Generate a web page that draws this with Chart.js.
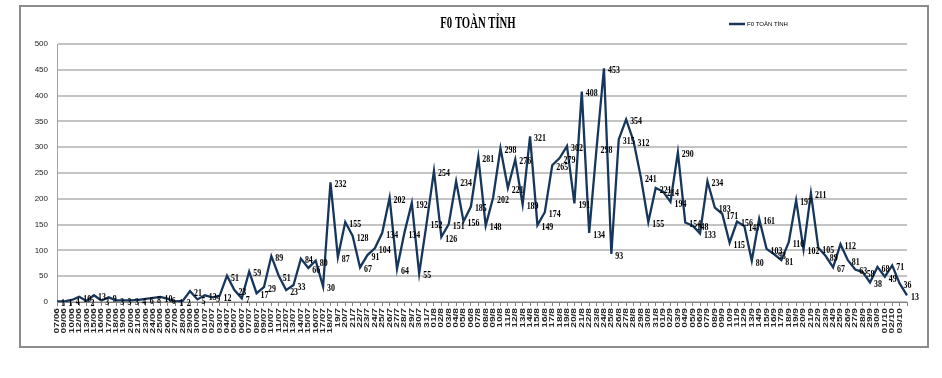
<!DOCTYPE html>
<html>
<head>
<meta charset="utf-8">
<script src="https://cdn.jsdelivr.net/npm/chart.js@4.4.1/dist/chart.umd.min.js"></script>
<style>
body{margin:0;background:#fff;}
#wrap{position:relative;width:942px;height:378px;}
#frame{position:absolute;left:19px;top:5px;width:906px;height:339px;border:2px solid #8c8c8c;pointer-events:none;}
</style>
</head>
<body>
<div id="wrap">
  <canvas id="myChart" width="942" height="378"></canvas>
  <div id="frame"></div>
</div>
<script>
var ngay = ['07/06','09/06','10/06','12/06','13/06','15/06','16/06','17/06','18/06','19/06',
  '20/06','21/06','23/06','24/06','25/06','26/06','27/06','28/06','29/06','30/06',
  '01/07','02/07','03/07','04/07','05/07','06/07','07/07','08/07','09/07','10/07',
  '11/07','12/07','13/07','14/07','15/07','16/07','17/07','18/07',
  '19/7','20/7','21/7','22/7','23/7','24/7','25/7','26/7','27/7','28/7','29/7','30/7','31/7',
  '01/8','02/8','03/8','04/8','05/8','06/8','07/8','08/8','09/8','10/8',
  '11/8','12/8','13/8','14/8','15/8','16/8','17/8','18/8','19/8','20/8',
  '21/8','22/8','23/8','24/8','25/8','26/8','27/8','28/8','29/8','30/8','31/8',
  '01/9','02/9','03/9','04/9','05/9','06/9','07/9','08/9','09/9','10/9',
  '11/9','12/9','13/9','14/9','15/9','16/9','17/9','18/9','19/9','20/9',
  '21/9','22/9','23/9','24/9','25/9','26/9','27/9','28/9','29/9','30/9',
  '01/10','02/10','03/10',''];

var so_ca = [1,1,4,10,2,13,3,9,3,3,
  3,4,6,8,10,6,1,2,21,5,
  13,9,12,51,23,7,59,17,29,89,
  51,23,33,84,66,80,30,232,
  87,155,128,67,91,104,134,202,64,134,192,55,152,
  254,126,151,234,156,185,281,148,202,298,
  221,276,189,321,149,174,265,279,302,191,
  408,134,298,453,93,315,354,312,241,155,221,
  214,194,290,154,148,133,234,183,171,115,
  156,147,80,161,103,93,81,116,197,102,
  211,105,89,67,112,81,63,58,38,68,
  49,71,36,13];

var ten_series = 'F0 TOÀN TỈNH';
var mau_line = '#16365c';
var fontSerif = "'Liberation Serif','DejaVu Serif',serif";
var fontSans = "'Liberation Sans','DejaVu Sans',sans-serif";

// tieu de + chu thich (chu hep nhu ban goc)
var tieuDe = {
  id:'tieuDe',
  afterDraw:function(chart){
    var c = chart.ctx;
    c.save();
    c.fillStyle = '#000';
    c.textAlign = 'center';
    c.textBaseline = 'middle';
    c.font = 'bold 17px ' + fontSerif;
    c.translate(478, 24);
    c.scale(0.63, 1);
    c.fillText(ten_series, 0, 0);
    c.restore();

    c.save();
    c.strokeStyle = mau_line;
    c.lineWidth = 2.5;
    c.beginPath();
    c.moveTo(729, 24);
    c.lineTo(745, 24);
    c.stroke();
    c.fillStyle = '#000';
    c.font = '6px ' + fontSans;
    c.textBaseline = 'middle';
    c.fillText(ten_series, 747, 24);
    c.restore();
  }
};

// ghi so lieu ben phai moi diem
var nhanDuLieu = {
  id:'nhanDuLieu',
  afterDatasetsDraw:function(chart){
    var c = chart.ctx;
    var meta = chart.getDatasetMeta(0);
    c.save();
    c.fillStyle = '#000';
    c.font = 'bold 11px ' + fontSerif;
    c.textAlign = 'left';
    c.textBaseline = 'middle';
    meta.data.forEach(function(pt, i){
      c.save();
      c.translate(pt.x + 4, pt.y + 2);
      c.scale(0.72, 1);
      c.fillText(so_ca[i], 0, 0);
      c.restore();
    });
    c.restore();
  }
};

// nhan ngay xoay doc, keo dai theo chieu doc
var nhanNgay = {
  id:'nhanNgay',
  afterDraw:function(chart){
    var sx = chart.scales.x;
    var c = chart.ctx;
    c.save();
    c.fillStyle = '#222';
    c.font = 'bold 7px ' + fontSans;
    c.textAlign = 'right';
    c.textBaseline = 'middle';
    sx.ticks.forEach(function(t, i){
      var x = sx.getPixelForTick(i);
      c.save();
      c.translate(x, sx.top + 6);
      c.rotate(-Math.PI / 2);
      c.scale(1.45, 1);
      c.fillText(ngay[i], 0, 0);
      c.restore();
    });
    c.restore();
  }
};

var ctx = document.getElementById('myChart');
var bieuDo = new Chart(ctx, {
  type:'line',
  data:{
    labels:ngay,
    datasets:[{
      label:ten_series,
      data:so_ca,
      borderColor:mau_line,
      backgroundColor:mau_line,
      borderWidth:2.3,
      pointRadius:0,
      tension:0,
      fill:false
    }]
  },
  options:{
    responsive:false,
    animation:false,
    layout:{padding:{left:12,right:35,top:44,bottom:0}},
    plugins:{
      legend:{display:false},
      tooltip:{enabled:false},
      title:{display:false}
    },
    scales:{
      x:{
        grid:{display:true,drawOnChartArea:false,tickLength:4,color:'#808080'},
        border:{color:'#808080',width:1},
        ticks:{display:false,autoSkip:false},
        afterFit:function(s){s.height = 76;}
      },
      y:{
        min:0,max:500,
        ticks:{stepSize:50,padding:9,color:'#222',font:{family:fontSans,size:8}},
        grid:{color:'#c4c4c4',lineWidth:2,drawTicks:false},
        border:{display:true,color:'#a0a0a0'},
        afterFit:function(s){s.width = 45;}
      }
    }
  },
  plugins:[nhanDuLieu, nhanNgay, tieuDe]
});
</script>
</body>
</html>
